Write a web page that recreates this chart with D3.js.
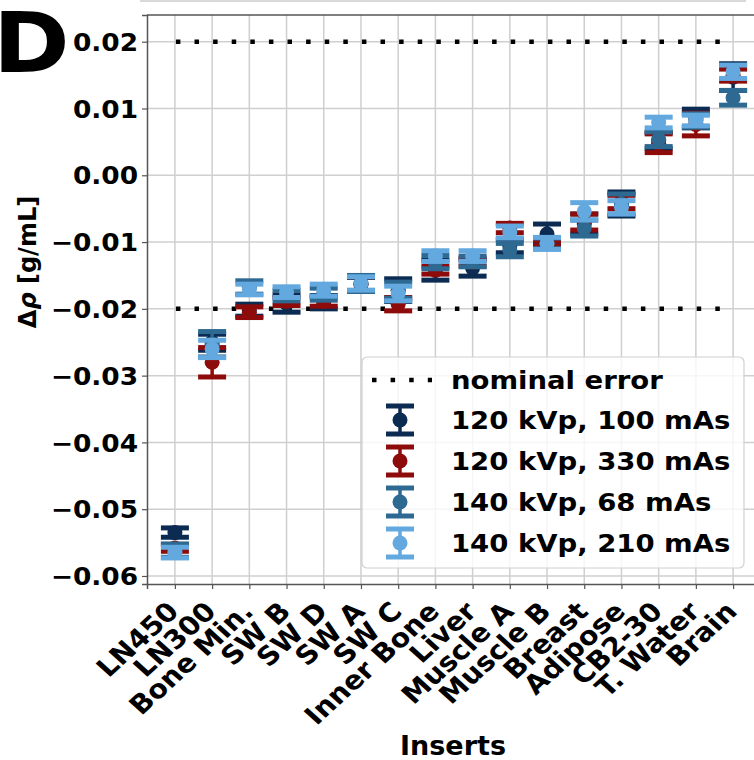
<html>
  <head>
    <meta charset="utf-8">
    <style>
      body { margin: 0; background: #fff; }
      text { font-family: "DejaVu Sans", sans-serif; font-weight: bold; fill: #000; }
    </style>
    <script src="https://cdn.jsdelivr.net/npm/d3@7"></script>
  </head>
  <body>
    <svg id="container" height="760" width="754"></svg>
  <script>
    const categories = ["LN450", "LN300", "Bone Min.", "SW B", "SW D", "SW A", "SW C", "Inner Bone",
      "Liver", "Muscle A", "Muscle B", "Breast", "Adipose", "CB2-30", "T. Water", "Brain"];

    const seriesNames = ["120 kVp, 100 mAs", "120 kVp, 330 mAs", "140 kVp, 68 mAs", "140 kVp, 210 mAs"];
    const seriesColors = ["#0b2b52", "#8e0b0b", "#2e6992", "#63a8de"];

    const mean120_100 = [-0.0535, -0.0250, -0.0202, -0.0192, -0.0190, -0.0163, -0.0172, -0.0142,
      -0.0139, -0.0106, -0.0088, -0.0073, -0.0043, 0.0052, 0.0085, 0.0147];
    const err120_100 = [0.0007, 0.0012, 0.0009, 0.0013, 0.0010, 0.0010, 0.0017, 0.0015,
      0.0012, 0.0010, 0.0015, 0.0015, 0.0018, 0.0012, 0.0014, 0.0020];

    const mean120_330 = [-0.0558, -0.0280, -0.0205, -0.0189, -0.0189, -0.0163, -0.0193, -0.0142,
      -0.0130, -0.0079, -0.0102, -0.0070, -0.0040, 0.0048, 0.0076, 0.0150];
    const err120_330 = [0.0005, 0.0022, 0.0008, 0.0006, 0.0007, 0.0011, 0.0010, 0.0006,
      0.0006, 0.0007, 0.0004, 0.0012, 0.0010, 0.0014, 0.0017, 0.0009];

    const mean140_68 = [-0.0562, -0.0253, -0.0168, -0.0180, -0.0178, -0.0162, -0.0172, -0.0130,
      -0.0129, -0.0112, -0.0102, -0.0079, -0.0043, 0.0054, 0.0082, 0.0116];
    const err140_68 = [0.0010, 0.0019, 0.0010, 0.0008, 0.0009, 0.0012, 0.0012, 0.0010,
      0.0008, 0.0010, 0.0008, 0.0012, 0.0015, 0.0011, 0.0010, 0.0011];

    const mean140_210 = [-0.0565, -0.0260, -0.0171, -0.0175, -0.0172, -0.0162, -0.0177, -0.0121,
      -0.0121, -0.0085, -0.0102, -0.0054, -0.0048, 0.0079, 0.0082, 0.0155];
    const err140_210 = [0.0008, 0.0013, 0.0008, 0.0008, 0.0009, 0.0010, 0.0011, 0.0008,
      0.0008, 0.0009, 0.0009, 0.0013, 0.0010, 0.0008, 0.0008, 0.0010];

    const yTicks = [0.02, 0.01, 0.00, -0.01, -0.02, -0.03, -0.04, -0.05, -0.06];
    const nominalError = [0.02, -0.02];

    const means = [mean120_100, mean120_330, mean140_68, mean140_210];
    const errs = [err120_100, err120_330, err140_68, err140_210];

    const SX = 1.1; // the figure is a bit wider than tall
    const plotLeft = 147, plotRight = 761, plotTop = 15, plotBottom = 584;

    const svg = d3.select("#container");

    const x = d3.scalePoint().domain(categories).range([plotLeft, plotRight]).padding(0.75);
    const y = d3.scaleLinear().domain([-0.0612, 0.024]).range([plotBottom, plotTop]);

    // faint edge of the panel above
    svg.append("line").attr("x1", 140).attr("x2", 746).attr("y1", 1).attr("y2", 1)
      .attr("stroke", "#d9d9d9").attr("stroke-width", 2);

    // grid
    svg.append("g").selectAll("line").data(categories).join("line")
      .attr("x1", d => x(d)).attr("x2", d => x(d)).attr("y1", plotTop).attr("y2", plotBottom)
      .attr("stroke", "#cfcfcf").attr("stroke-width", 1.5);
    svg.append("g").selectAll("line").data(yTicks).join("line")
      .attr("x1", plotLeft).attr("x2", plotRight).attr("y1", d => y(d)).attr("y2", d => y(d))
      .attr("stroke", "#cfcfcf").attr("stroke-width", 1.5);

    // axes
    const yAxis = svg.append("g").attr("transform", `translate(${plotLeft},0)`)
      .call(d3.axisLeft(y).tickValues(yTicks).tickSize(5).tickPadding(0)
        .tickFormat(d => d3.format(".2f")(d).replace("-", "\u2212")));
    const xAxis = svg.append("g").attr("transform", `translate(0,${plotBottom})`)
      .call(d3.axisBottom(x).tickSize(5));
    [yAxis, xAxis].forEach(a => {
      a.select(".domain").attr("stroke", "#555").attr("stroke-width", 1.5);
      a.selectAll(".tick line").attr("stroke", "#555").attr("stroke-width", 1.2);
    });
    svg.append("line").attr("x1", plotLeft).attr("x2", plotRight).attr("y1", plotTop).attr("y2", plotTop)
      .attr("stroke", "#555").attr("stroke-width", 1.5);

    yAxis.selectAll(".tick text")
      .attr("x", -9 / SX).attr("dy", "0.36em")
      .attr("transform", `scale(${SX},1)`)
      .style("font-size", "24px").style("font-family", "DejaVu Sans").style("font-weight", "bold")
      .attr("fill", "#000");

    xAxis.selectAll(".tick text")
      .attr("x", 0).attr("y", 0).attr("dy", 0)
      .attr("text-anchor", "end")
      .attr("transform", `translate(5,29) scale(${SX},1) rotate(-45)`)
      .style("font-size", "26px").style("font-family", "DejaVu Sans").style("font-weight", "bold")
      .attr("fill", "#000");

    // nominal error lines
    svg.append("g").selectAll("line").data(nominalError).join("line")
      .attr("x1", x(categories[0])).attr("x2", x(categories[14]) + 24)
      .attr("y1", d => y(d)).attr("y2", d => y(d))
      .attr("stroke", "#000").attr("stroke-width", 4.5)
      .attr("stroke-dasharray", "4.5,14.1").attr("stroke-dashoffset", -1);

    // error bars
    function drawErrorBar(g, cx, cy, yLo, yHi, color) {
      g.append("line").attr("x1", cx).attr("x2", cx).attr("y1", yLo).attr("y2", yHi)
        .attr("stroke", color).attr("stroke-width", 3.5);
      [yLo, yHi].forEach(v => g.append("line")
        .attr("x1", cx - 14).attr("x2", cx + 14).attr("y1", v).attr("y2", v)
        .attr("stroke", color).attr("stroke-width", 5));
      g.append("circle").attr("cx", cx).attr("cy", cy).attr("r", 7.5).attr("fill", color);
    }

    means.forEach((m, s) => {
      const g = svg.append("g");
      categories.forEach((c, i) => {
        drawErrorBar(g, x(c), y(m[i]), y(m[i] - errs[s][i]), y(m[i] + errs[s][i]), seriesColors[s]);
      });
    });

    // legend
    const lg = svg.append("g");
    lg.append("rect").attr("x", 362).attr("y", 357).attr("width", 382).attr("height", 211)
      .attr("rx", 5).attr("fill", "#fff").attr("fill-opacity", 0.8)
      .attr("stroke", "#d0d0d0").attr("stroke-width", 1.2);
    lg.append("line").attr("x1", 372).attr("x2", 432).attr("y1", 380).attr("y2", 380)
      .attr("stroke", "#000").attr("stroke-width", 4.5).attr("stroke-dasharray", "4.5,14.1");
    lg.append("text").attr("transform", `translate(451,389) scale(${SX},1)`)
      .style("font-size", "25px").text("nominal error");
    seriesNames.forEach((n, s) => {
      const cy = 420 + s * 41;
      drawErrorBar(lg, 400, cy, cy + 14, cy - 14, seriesColors[s]);
      lg.append("text").attr("transform", `translate(451,${cy + 9}) scale(${SX},1)`)
        .style("font-size", "25px").text(n);
    });

    // labels
    const yLabel = svg.append("text").attr("transform", `translate(36,262) rotate(-90)`)
      .attr("text-anchor", "middle").style("font-size", "24px");
    yLabel.append("tspan").text("\u0394");
    yLabel.append("tspan").style("font-style", "italic").text("\u03c1");
    yLabel.append("tspan").text(" [g/mL]");
    svg.append("text").attr("transform", `translate(453,755)`)
      .attr("text-anchor", "middle").style("font-size", "27px").text("Inserts");
    svg.append("text").attr("transform", `translate(-7,72) scale(${SX},1)`)
      .style("font-size", "84px").text("D");
  </script>
  </body>
</html>
